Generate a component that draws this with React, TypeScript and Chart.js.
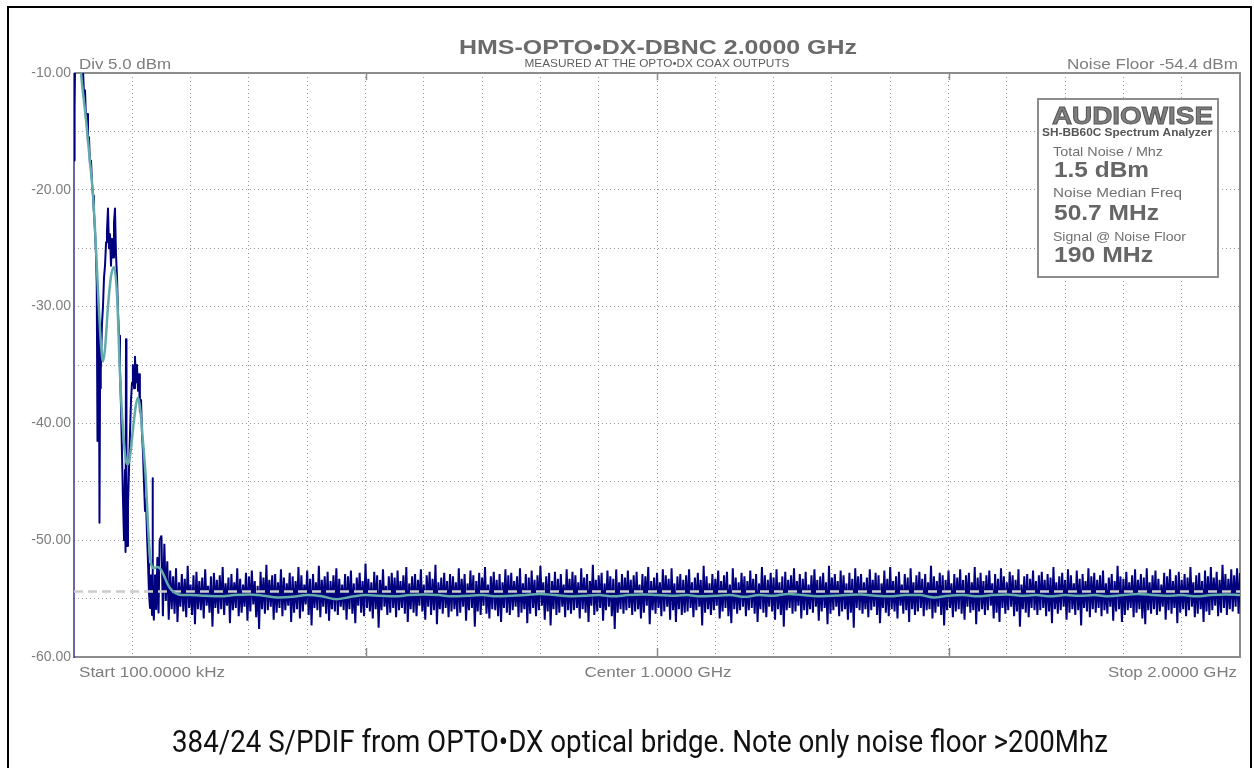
import React, { useEffect, useRef } from "react";
import { Chart, registerables } from "chart.js";

Chart.register(...registerables);

// ---------- texts ----------
const TITLE = "HMS-OPTO•DX-DBNC 2.0000 GHz";
const SUBTITLE = "MEASURED AT THE OPTO•DX COAX OUTPUTS";
const DIV_LABEL = "Div 5.0 dBm";
const FLOOR_LABEL = "Noise Floor -54.4 dBm";
const X_LABELS = ["Start 100.0000 kHz", "Center 1.0000 GHz", "Stop 2.0000 GHz"];
const BRAND = "AUDIOWISE";
const BRAND_SUB = "SH-BB60C Spectrum Analyzer";
const STAT_NAMES = ["Total Noise / Mhz", "Noise Median Freq", "Signal @ Noise Floor"];
const STAT_VALUES = ["1.5 dBm", "50.7 MHz", "190 MHz"];
const CAPTION = "384/24 S/PDIF from OPTO•DX optical bridge. Note only noise floor >200Mhz";

// ---------- axes (MHz, dBm) ----------
const FREQ_MIN = 0;
const FREQ_MAX = 2000;
const FREQ_GRID_STEP = 100;
const LEVEL_MIN = -60;
const LEVEL_MAX = -10;
const LEVEL_GRID_STEP = 5;
const NOISE_FLOOR = -54.4;
const MAJOR_TICK_FREQS = [500, 1000, 1500];

// ---------- raw trace, low-frequency part ----------
const traceFreq = [
  0.1, 0.4, 0.8, 1.2, 1.6, 2.5, 5, 8, 10, 12, 13.7, 15.5, 17.2, 18.9, 20.6, 22.3, 24, 25.7, 27.4, 29.2,
  30.9, 32.6, 34.3, 36, 37.7, 39, 40.3, 41.2, 42, 42.9, 43.7, 44.6, 45.5, 46.3, 48, 49.7, 51.5, 53.2, 55, 56.6,
  58.3, 60, 61.7, 63.5, 65.2, 66.9, 68.6, 70.3, 72, 73.8, 75.5, 77.2, 78.9, 80.6, 82.3, 84, 85.8, 87.5, 88.4, 89.2,
  90, 91, 92.6, 94.3, 96, 97.8, 99.5, 101, 103, 104.6, 106.3, 108, 109.8, 111.5, 113, 115, 116.7, 118.4, 120, 121.8,
  123.5, 125.2, 127, 128.6, 130.4, 132, 133.8, 134.6, 135.5, 137, 139, 141, 143, 145, 147,
];
const traceLevel = [
  -17.5, -11, -16, -9, -13, -6, -2, -3, -6, -8.5, -10.5, -9.8, -12, -11.5, -14, -13.5, -16, -15.5, -17.8, -17.5,
  -19.5, -20.5, -22, -23.5, -25.5, -28, -41.5, -31, -30, -33, -48.5, -37, -34, -35.5, -31.5, -30, -27.5, -26.5, -24.5, -23.5,
  -21.6, -25, -23.8, -26.5, -24.2, -25.8, -22.8, -21.6, -25.5, -27.5, -30.5, -32.5, -35.5, -38.5, -42.5, -46.5, -50, -44, -51, -32.8,
  -45, -50.5, -47, -44, -41, -38, -36.5, -35, -37, -34.3, -36.5, -35, -37.2, -35.8, -39, -38, -41, -42.5, -45, -47.5,
  -46.5, -49.5, -52, -54.5, -55.8, -53, -56.4, -44.7, -55, -56.8, -53, -55.9, -51.5, -56.2, -50,
];

// ---------- raw trace, noise floor part: per 5 MHz bin from 150 MHz, peak and trough ----------
const NOISE_START = 150;
const NOISE_BIN = 5;
const noiseHigh = [
  -49.6, -50.3, -51.8, -52.6, -53.1, -52.4, -53.6, -52.9, -53.3, -52.2, -53.8, -53.0, -52.7, -53.5, -53.2, -52.5, -53.9, -53.1, -52.8, -53.4,
  -53.0, -52.3, -53.7, -53.2, -52.9, -53.6, -52.4, -53.3, -53.8, -52.8, -53.1, -52.6, -53.5, -53.9, -52.7, -53.2, -52.1, -53.4, -53.0, -52.9,
  -53.6, -52.5, -53.2, -53.7, -52.8, -53.1, -53.5, -52.3, -53.0, -53.8, -52.6, -53.3, -52.9, -53.6, -52.2, -53.4, -53.1, -52.7, -53.5, -53.0,
  -52.4, -53.3, -53.8, -52.9, -53.1, -52.6, -53.7, -53.2, -52.8, -53.5, -52.0, -53.3, -53.6, -52.7, -53.0, -53.4, -52.5, -53.9, -53.1, -52.8,
  -53.2, -52.6, -53.5, -53.0, -52.3, -53.7, -53.1, -52.9, -53.4, -52.5, -53.8, -53.0, -52.7, -53.3, -52.1, -53.6, -53.2, -52.8, -53.5, -52.9,
  -53.1, -53.6, -52.4, -53.3, -52.9, -53.7, -52.6, -53.0, -53.5, -52.8, -53.2, -52.3, -53.8, -53.1, -52.7, -53.4, -52.9, -53.6, -52.5, -53.0,
  -52.8, -53.5, -53.1, -52.4, -53.7, -52.9, -53.2, -52.6, -53.4, -53.0, -52.2, -53.6, -53.1, -52.8, -53.5, -52.7, -53.3, -52.9, -53.8, -52.5,
  -53.3, -52.7, -53.0, -53.6, -52.4, -53.2, -52.9, -53.5, -52.1, -53.4, -53.0, -52.8, -53.7, -52.6, -53.1, -53.3, -52.5, -53.6, -52.9, -53.2,
  -52.6, -53.4, -53.0, -52.7, -53.8, -52.9, -53.1, -52.3, -53.5, -53.2, -52.8, -53.6, -52.5, -53.0, -53.3, -52.4, -53.7, -53.1, -52.9, -53.4,
  -53.0, -52.5, -53.6, -53.2, -52.8, -53.4, -52.2, -53.1, -53.7, -52.9, -53.3, -52.6, -53.5, -53.0, -52.7, -53.8, -52.4, -53.2, -53.6, -52.8,
  -53.1, -53.5, -52.6, -53.3, -52.9, -53.7, -52.3, -53.0, -53.4, -52.8, -53.2, -52.5, -53.6, -53.1, -52.7, -53.4, -53.0, -52.4, -53.5, -52.9,
  -53.3, -52.7, -53.8, -53.0, -52.5, -53.4, -53.1, -52.8, -53.6, -52.2, -53.2, -52.9, -53.5, -52.6, -53.0, -53.7, -52.8, -53.3, -52.4, -53.1,
  -52.9, -53.6, -53.2, -52.5, -53.4, -52.8, -53.0, -53.7, -52.6, -53.3, -52.3, -53.5, -53.1, -52.7, -53.8, -52.9, -53.2, -52.4, -53.6, -53.0,
  -52.7, -53.3, -52.9, -53.6, -52.2, -53.1, -53.5, -52.8, -53.0, -53.4, -52.6, -53.7, -52.9, -53.2, -52.5, -53.4, -53.0, -52.8, -53.6, -52.3,
  -53.2, -52.8, -53.5, -53.0, -52.6, -53.7, -52.9, -53.3, -52.4, -53.1, -53.6, -52.7, -53.0, -53.4, -52.5, -53.8, -53.1, -52.9, -53.3, -52.6,
  -53.5, -53.0, -52.7, -53.4, -52.9, -53.2, -52.3, -53.6, -53.1, -52.8, -53.4, -52.5, -53.0, -53.7, -52.6, -53.3, -52.9, -53.5, -52.4, -53.1,
  -52.8, -53.4, -53.0, -52.6, -53.7, -53.2, -52.9, -53.5, -52.2, -53.1, -53.3, -52.7, -53.6, -53.0, -52.5, -53.4, -52.9, -53.2, -52.4, -53.6,
  -53.0, -52.6, -53.3, -53.8, -52.8, -53.1, -52.5, -53.5, -53.0, -52.7, -53.4, -52.9, -53.2, -52.3, -53.6, -53.0, -52.8, -53.5, -52.6, -53.1,
  -52.3, -53.2, -52.7, -53.4, -52.1, -52.9, -53.3, -52.5, -53.0, -52.4, -52.8,
];
const noiseLow = [
  -56.5, -55.2, -56.8, -55.9, -56.3, -57.0, -55.7, -56.1, -56.6, -55.8, -56.4, -57.2, -55.9, -56.0, -56.7, -55.6, -56.2, -57.4, -55.8, -56.3,
  -55.9, -56.4, -55.6, -57.1, -56.0, -55.8, -56.5, -56.2, -55.7, -56.9, -56.1, -55.5, -56.6, -57.6, -55.9, -56.3, -56.0, -55.7, -56.8, -56.2,
  -55.8, -56.5, -56.0, -55.6, -57.0, -56.2, -55.9, -56.7, -56.1, -55.5, -56.4, -57.3, -55.8, -56.0, -56.6, -55.7, -56.3, -56.9, -55.9, -56.1,
  -56.4, -55.7, -56.0, -56.8, -55.9, -56.3, -57.1, -55.6, -56.2, -56.5, -55.8, -56.1, -56.7, -55.9, -57.5, -56.0, -55.7, -56.4, -56.2, -55.8,
  -56.6, -56.0, -55.8, -56.3, -57.0, -55.9, -56.2, -56.5, -55.6, -56.1, -56.8, -55.7, -56.4, -56.0, -57.2, -55.9, -56.3, -55.8, -56.6, -56.1,
  -55.9, -56.5, -56.2, -55.7, -56.9, -56.0, -55.8, -57.4, -56.1, -56.4, -55.6, -56.3, -56.7, -55.9, -56.0, -56.5, -57.0, -55.8, -56.2, -56.4,
  -56.0, -55.7, -56.6, -56.2, -55.9, -57.1, -56.3, -55.8, -56.5, -56.0, -55.6, -56.8, -56.1, -57.3, -55.9, -56.4, -56.2, -55.7, -56.6, -56.0,
  -56.3, -56.0, -55.8, -56.7, -55.9, -56.2, -57.0, -55.6, -56.4, -56.1, -55.8, -56.9, -56.0, -55.7, -56.5, -57.6, -56.2, -55.9, -56.3, -56.0,
  -55.8, -56.4, -56.1, -55.9, -56.7, -56.2, -55.6, -57.2, -56.0, -56.3, -55.8, -56.5, -56.1, -55.7, -56.8, -56.0, -57.0, -55.9, -56.4, -56.2,
  -56.1, -55.8, -56.6, -56.0, -55.7, -57.3, -56.2, -55.9, -56.4, -56.0, -55.6, -56.7, -56.1, -55.8, -56.5, -57.1, -55.9, -56.3, -56.0, -55.7,
  -56.5, -56.0, -55.8, -56.3, -57.0, -55.9, -56.2, -56.6, -55.7, -56.1, -56.8, -55.9, -56.4, -57.4, -56.0, -55.8, -56.3, -56.1, -55.6, -56.7,
  -56.0, -56.4, -55.9, -56.2, -55.7, -56.9, -56.1, -55.8, -57.2, -56.3, -56.0, -55.7, -56.5, -56.1, -55.9, -56.8, -56.2, -57.5, -55.8, -56.0,
  -56.3, -55.9, -56.6, -56.0, -55.7, -56.4, -57.1, -55.8, -56.2, -56.5, -55.9, -56.1, -56.7, -55.6, -56.3, -56.0, -57.0, -55.9, -56.4, -56.1,
  -55.8, -56.5, -56.0, -55.9, -56.7, -56.2, -55.7, -56.4, -57.3, -56.0, -55.8, -56.6, -56.1, -55.9, -56.3, -56.8, -55.7, -56.2, -56.0, -57.2,
  -56.1, -55.9, -56.4, -56.0, -55.6, -56.7, -56.2, -57.0, -55.8, -56.3, -56.0, -55.7, -56.5, -56.1, -57.4, -55.9, -56.2, -56.6, -55.8, -56.0,
  -56.4, -56.0, -55.8, -56.5, -56.1, -57.1, -55.9, -56.3, -56.0, -55.7, -56.8, -56.2, -55.9, -56.4, -56.0, -57.3, -55.8, -56.1, -56.6, -55.9,
  -56.2, -55.8, -56.5, -56.0, -56.3, -55.7, -56.9, -56.1, -55.9, -57.0, -56.4, -56.0, -55.8, -56.6, -56.2, -55.9, -56.7, -57.2, -56.0, -56.3,
  -55.9, -56.4, -56.1, -55.7, -56.8, -56.0, -56.3, -55.8, -57.1, -56.2, -55.9, -56.5, -56.0, -55.7, -56.6, -56.3, -55.9, -57.0, -56.1, -56.4,
  -56.0, -55.6, -56.5, -56.2, -55.8, -56.4, -55.9, -56.1, -55.7, -56.3, -55.9,
];

// ---------- averaged (smoothed) trace ----------
const avgFreq = [
  0.1, 6, 12, 20.6, 27.4, 32.6, 37.7, 42.9, 46.3, 49.7, 53.2, 58.3, 63.5, 68.6, 73.8, 78.9, 84, 89.2, 92.6, 96.1,
  101.2, 106.3, 109.8, 113.2, 118.4, 123.5, 127, 132, 137, 143, 149, 155, 161, 168, 175, 185,
];
const avgLevel = [
  -1, -6, -10, -14, -17.6, -20.4, -25, -30.4, -33.2, -34.7, -33.6, -30, -27.4, -26.6, -29, -35.8, -40.5, -43.2, -43.5, -42.8,
  -40.5, -38.4, -37.8, -38.6, -41.6, -45, -48.8, -52, -52.4, -52.3, -52.5, -53.1, -53.8, -54.3, -54.55, -54.7,
];
const AVG_FLOOR_START = 200;
const AVG_FLOOR_STEP = 25;
const avgFloorLevel = [
  -54.7, -54.75, -54.8, -54.7, -54.65, -54.75, -54.9, -54.85, -54.7, -54.8,
  -55.05, -54.85, -54.7, -54.75, -54.8, -54.7, -54.65, -54.7, -54.8, -54.75,
  -54.7, -54.8, -54.75, -54.7, -54.6, -54.7, -54.8, -54.75, -54.7, -54.8,
  -54.7, -54.65, -54.7, -54.75, -54.7, -54.8, -54.75, -54.7, -54.85, -54.7,
  -54.75, -54.6, -54.7, -54.8, -54.75, -54.7, -54.65, -54.75, -54.8, -54.7,
  -54.7, -54.9, -54.75, -54.7, -54.8, -54.7, -54.65, -54.75, -54.7, -54.8,
  -54.7, -54.75, -54.7, -54.8, -54.7, -54.6, -54.7, -54.75, -54.7, -54.8,
  -54.7, -54.65, -54.7,
];

// ---------- helpers ----------
type Align = "left" | "center" | "right";
function fitText(
  ctx: CanvasRenderingContext2D,
  text: string,
  x: number,
  y: number,
  align: Align,
  width: number,
  font: string,
  color: string,
  stroke?: string
) {
  ctx.save();
  ctx.font = font;
  const w = ctx.measureText(text).width || 1;
  const s = width / w;
  const left = align === "left" ? x : align === "center" ? x - width / 2 : x - width;
  ctx.translate(left, y);
  ctx.scale(s, 1);
  ctx.textAlign = "left";
  ctx.textBaseline = "alphabetic";
  ctx.fillStyle = color;
  ctx.fillText(text, 0, 0);
  if (stroke) {
    ctx.strokeStyle = stroke;
    ctx.lineWidth = 0.9;
    ctx.strokeText(text, 0, 0);
  }
  ctx.restore();
}

const SANS = "'Liberation Sans', Arial, sans-serif";

const decorPlugin = {
  id: "decor",
  beforeDraw(chart: any) {
    const ctx = chart.ctx as CanvasRenderingContext2D;
    ctx.save();
    ctx.fillStyle = "#ffffff";
    ctx.fillRect(0, 0, chart.width, chart.height);
    ctx.restore();
  },
  beforeDatasetsDraw(chart: any) {
    const ctx = chart.ctx as CanvasRenderingContext2D;
    const { left, top, right, bottom } = chart.chartArea;
    const xs = chart.scales.x;
    ctx.save();
    ctx.strokeStyle = "#8c8c8c";
    ctx.lineWidth = 2;
    ctx.beginPath();
    ctx.moveTo(left, top);
    ctx.lineTo(right, top);
    ctx.lineTo(right, bottom);
    ctx.lineTo(left, bottom);
    ctx.stroke();
    ctx.lineWidth = 1.5;
    for (const f of MAJOR_TICK_FREQS) {
      const px = Math.round(xs.getPixelForValue(f)) + 0.5;
      ctx.beginPath();
      ctx.moveTo(px, bottom);
      ctx.lineTo(px, bottom - 9);
      ctx.moveTo(px, top);
      ctx.lineTo(px, top + 7);
      ctx.stroke();
    }
    ctx.strokeStyle = "#34348c";
    ctx.lineWidth = 1.5;
    ctx.beginPath();
    ctx.moveTo(left, top);
    ctx.lineTo(left, bottom + 1);
    ctx.stroke();
    ctx.restore();
  },
  afterDatasetsDraw(chart: any) {
    const ctx = chart.ctx as CanvasRenderingContext2D;
    const { left, top, right, bottom } = chart.chartArea;
    const cx = (left + right) / 2;

    // header
    fitText(ctx, TITLE, cx + 1, top - 19, "center", 398, `bold 21px ${SANS}`, "#6b6b6b");
    fitText(ctx, SUBTITLE, cx, top - 6, "center", 265, `11px ${SANS}`, "#5e5e5e");
    fitText(ctx, DIV_LABEL, left + 5, top - 4, "left", 92, `14px ${SANS}`, "#7d7d7d");
    fitText(ctx, FLOOR_LABEL, right - 2, top - 4, "right", 171, `14px ${SANS}`, "#7d7d7d");

    // bottom labels
    fitText(ctx, X_LABELS[0], left + 5, bottom + 20, "left", 146, `14px ${SANS}`, "#7d7d7d");
    fitText(ctx, X_LABELS[1], cx + 1, bottom + 20, "center", 147, `14px ${SANS}`, "#7d7d7d");
    fitText(ctx, X_LABELS[2], right - 3, bottom + 20, "right", 129, `14px ${SANS}`, "#7d7d7d");

    // info box
    const bx = right - 202;
    const by = top + 26;
    const bw = 180;
    const bh = 178;
    ctx.save();
    ctx.fillStyle = "#ffffff";
    ctx.fillRect(bx, by, bw, bh);
    ctx.strokeStyle = "#8c8c8c";
    ctx.lineWidth = 2;
    ctx.strokeRect(bx, by, bw, bh);
    ctx.restore();
    fitText(ctx, BRAND, bx + 14, by + 25, "left", 161, `900 24px ${SANS}`, "#7e7e7e", "#555555");
    fitText(ctx, BRAND_SUB, bx + 4, by + 37, "left", 170, `bold 11.5px ${SANS}`, "#555555");
    const nameY = [57, 98, 142];
    const nameW = [110, 129, 133];
    for (let i = 0; i < 3; i++) {
      fitText(ctx, STAT_NAMES[i], bx + 15, by + nameY[i], "left", nameW[i], `13px ${SANS}`, "#707070");
    }
    const valY = [78, 121, 163];
    const valW = [95, 105, 99];
    for (let i = 0; i < 3; i++) {
      fitText(ctx, STAT_VALUES[i], bx + 16, by + valY[i], "left", valW[i], `bold 22px ${SANS}`, "#666666");
    }
  },
  afterDraw(chart: any) {
    const ctx = chart.ctx as CanvasRenderingContext2D;
    // caption
    fitText(ctx, CAPTION, 640, 752, "center", 936, `31px Roboto, 'Noto Sans', sans-serif`, "#111111");
    // outer frame
    ctx.save();
    ctx.fillStyle = "#000000";
    ctx.fillRect(7, 6, 1245, 2);
    ctx.fillRect(7, 6, 2, 780);
    ctx.fillRect(1250, 6, 2, 780);
    ctx.restore();
  },
};

export default function App() {
  const canvasRef = useRef<HTMLCanvasElement | null>(null);

  useEffect(() => {
    document.body.style.margin = "0";
    const canvas = canvasRef.current;
    if (!canvas) return;

    const tracePts = traceFreq.map((f, i) => ({ x: f, y: traceLevel[i] }));
    const noisePts: { x: number; y: number }[] = [
      { x: traceFreq[traceFreq.length - 1], y: traceLevel[traceLevel.length - 1] },
    ];
    noiseHigh.forEach((hi, i) => {
      const f = NOISE_START + i * NOISE_BIN;
      noisePts.push({ x: f, y: hi });
      noisePts.push({ x: f + NOISE_BIN / 2, y: noiseLow[i] });
    });
    const avgPts = avgFreq.map((f, i) => ({ x: f, y: avgLevel[i] }));
    avgFloorLevel.forEach((v, i) => avgPts.push({ x: AVG_FLOOR_START + i * AVG_FLOOR_STEP, y: v }));

    const gridColor = (edgeA: number, edgeB: number) => (c: any) =>
      c.tick && (c.tick.value === edgeA || c.tick.value === edgeB) ? "rgba(0,0,0,0)" : "#9a9a9a";

    const chart = new Chart(canvas, {
      type: "line",
      data: {
        datasets: [
          {
            label: "Average",
            data: avgPts,
            borderColor: "#62abab",
            borderWidth: 2.5,
            pointRadius: 0,
            cubicInterpolationMode: "monotone",
            order: 0,
          },
          {
            label: "Noise floor",
            data: [
              { x: FREQ_MIN, y: NOISE_FLOOR },
              { x: FREQ_MAX, y: NOISE_FLOOR },
            ],
            borderColor: "#cccccc",
            borderWidth: 2.5,
            borderDash: [9, 5],
            pointRadius: 0,
            order: 1,
          },
          {
            label: "Trace low",
            data: tracePts,
            borderColor: "#00007f",
            borderWidth: 2,
            borderJoinStyle: "round",
            pointRadius: 0,
            tension: 0,
            order: 2,
          },
          {
            label: "Trace floor",
            data: noisePts,
            borderColor: "#00007f",
            borderWidth: 2,
            borderJoinStyle: "bevel",
            pointRadius: 0,
            tension: 0,
            order: 3,
          },
        ],
      },
      options: {
        responsive: false,
        animation: false,
        devicePixelRatio: 1,
        events: [],
        layout: { padding: { top: 73, right: 14, bottom: 0, left: 0 } },
        plugins: {
          legend: { display: false },
          tooltip: { enabled: false },
          title: { display: false },
        },
        scales: {
          x: {
            type: "linear",
            min: FREQ_MIN,
            max: FREQ_MAX,
            afterFit: (s: any) => {
              s.height = 111;
            },
            ticks: { display: false, stepSize: FREQ_GRID_STEP, autoSkip: false },
            grid: { color: gridColor(FREQ_MIN, FREQ_MAX), lineWidth: 1, drawTicks: false },
            border: { display: false, dash: [1, 3] },
          },
          y: {
            type: "linear",
            min: LEVEL_MIN,
            max: LEVEL_MAX,
            afterFit: (s: any) => {
              s.width = 74;
            },
            ticks: {
              stepSize: LEVEL_GRID_STEP,
              autoSkip: false,
              padding: 3,
              color: "#7d7d7d",
              font: { family: SANS, size: 14 },
              callback: (v: any) => (Number(v) % 10 === 0 ? Number(v).toFixed(2) : ""),
            },
            grid: { color: gridColor(LEVEL_MIN, LEVEL_MAX), lineWidth: 1, drawTicks: false },
            border: { display: false, dash: [1, 3] },
          },
        },
      } as any,
      plugins: [decorPlugin],
    });

    return () => chart.destroy();
  }, []);

  return (
    <div style={{ width: 1254, height: 768, position: "relative", overflow: "hidden", background: "#fff" }}>
      <canvas ref={canvasRef} width={1254} height={768} style={{ display: "block", width: 1254, height: 768 }} />
    </div>
  );
}
